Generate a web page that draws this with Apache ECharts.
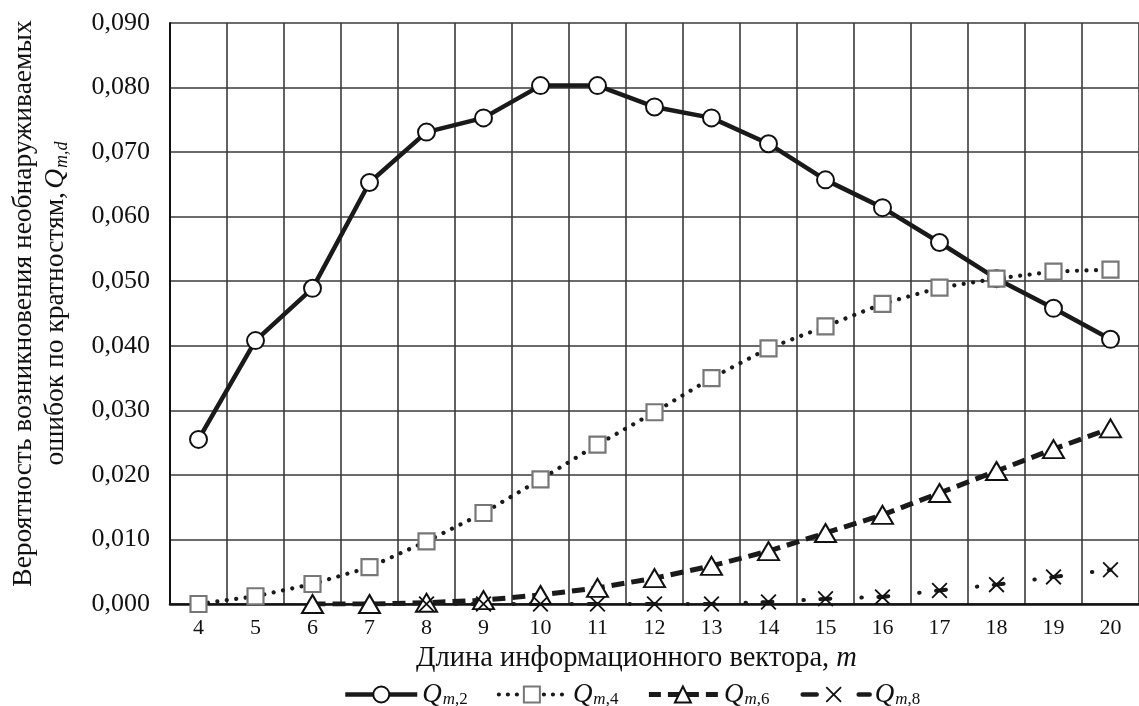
<!DOCTYPE html>
<html>
<head>
<meta charset="utf-8">
<script src="https://cdn.jsdelivr.net/npm/echarts@6/dist/echarts.min.js"></script>
<style>
  html, body { margin: 0; padding: 0; background: #fff; }
  #chart { width: 1139px; height: 706px; }
</style>
</head>
<body>
<div id="chart"></div>
<script>
// Information vector length m
const categories = ['4', '5', '6', '7', '8', '9', '10', '11', '12', '13', '14', '15', '16', '17', '18', '19', '20'];

// Probability of undetected errors by multiplicity d
const qm2 = [0.0255, 0.0408, 0.0489, 0.0653, 0.0731, 0.0753, 0.0803, 0.0803, 0.0770, 0.0753, 0.0713, 0.0657, 0.0614, 0.0560, 0.0504, 0.0458, 0.0410];
const qm4 = [0.0000, 0.0012, 0.0031, 0.0057, 0.0097, 0.0141, 0.0193, 0.0247, 0.0297, 0.0350, 0.0396, 0.0430, 0.0465, 0.0490, 0.0504, 0.0515, 0.0518];
const qm6 = [null, null, 0.0000, 0.0000, 0.0002, 0.0006, 0.0014, 0.0025, 0.0040, 0.0059, 0.0082, 0.0110, 0.0138, 0.0172, 0.0206, 0.0240, 0.0272];
const qm8 = [null, null, null, null, 0.0000, 0.0000, 0.0000, 0.0000, 0.0000, 0.0000, 0.0003, 0.0008, 0.0011, 0.0021, 0.0030, 0.0042, 0.0053];

const seriesNames = ['Q_m,2', 'Q_m,4', 'Q_m,6', 'Q_m,8'];
const yTicks = { min: 0, max: 0.09, interval: 0.01 };

const SERIF = '"Liberation Serif", "DejaVu Serif", serif';
const CROSS = 'path://M1.6,0L10,8.4L18.4,0L20,1.6L11.6,10L20,18.4L18.4,20L10,11.6L1.6,20L0,18.4L8.4,10L0,1.6Z';

// Line styles shared by the series and their legend samples
const styles = [
  { color: '#1a1a1a', width: 4.5, type: 'solid' },
  { color: '#1a1a1a', width: 4.2, type: [0.01, 9.5], cap: 'round' },
  { color: '#1a1a1a', width: 5, type: [13, 7] },
  { color: '#1a1a1a', width: 4, type: [10, 31, 0.5, 16.5], dashOffset: 12, cap: 'round' }
];
const legendStyles = [
  { color: '#1a1a1a', width: 4.5, type: 'solid' },
  { color: '#1a1a1a', width: 4.2, type: [0.01, 9], cap: 'round', dashOffset: -3 },
  { color: '#1a1a1a', width: 5, type: [12, 7], dashOffset: -2 },
  { color: '#1a1a1a', width: 4.5, type: [14, 42], dashOffset: -5 }
];

const subRich = {
  q: { fontFamily: SERIF, fontSize: 27, fontStyle: 'italic', color: '#111' },
  s: { fontFamily: SERIF, fontSize: 17, fontStyle: 'italic', color: '#111', padding: [11, 0, 0, 1] },
  t: { fontFamily: SERIF, fontSize: 17, color: '#111', padding: [11, 0, 0, 0] }
};

const chart = echarts.init(document.getElementById('chart'), null, { renderer: 'canvas' });

chart.setOption({
  backgroundColor: '#fff',
  animation: false,
  grid: { left: 167, top: 23, width: 985, height: 581, containLabel: false },
  legend: {
    top: 676,
    left: 338,
    itemWidth: 72,
    itemHeight: 20,
    itemGap: 26,
    data: seriesNames.map(function (n, i) { return { name: n, lineStyle: legendStyles[i] }; }),
    formatter: function (name) {
      const idx = name.split(',')[1];
      return '{q|Q}{s|m}{t|,' + idx + '}';
    },
    textStyle: { rich: subRich }
  },
  xAxis: {
    type: 'category',
    data: categories,
    boundaryGap: true,
    name: '{a|Длина информационного вектора, }{i|m}',
    nameLocation: 'middle',
    nameGap: 38,
    nameTextStyle: {
      padding: [0, 36, 0, 0],
      rich: {
        a: { fontFamily: SERIF, fontSize: 28.5, color: '#111' },
        i: { fontFamily: SERIF, fontSize: 28.5, fontStyle: 'italic', color: '#111' }
      }
    },
    axisLine: { show: true, lineStyle: { color: '#111', width: 2.5 } },
    axisTick: { show: false },
    axisLabel: { fontFamily: SERIF, fontSize: 22, color: '#111', margin: 13 },
    splitLine: { show: true, interval: 0, lineStyle: { color: '#3a3a3a', width: 1.6 } }
  },
  yAxis: {
    type: 'value',
    min: yTicks.min,
    max: yTicks.max,
    interval: yTicks.interval,
    name: '{a|Вероятность возникновения необнаруживаемых}\n{a|ошибок по кратностям,} {q|Q}{s|m,d}',
    nameLocation: 'middle',
    nameRotate: 90,
    nameGap: 98,
    nameTextStyle: {
      lineHeight: 32,
      padding: [0, 0, 0, 20],
      rich: {
        a: { fontFamily: SERIF, fontSize: 27.5, color: '#111', lineHeight: 32 },
        q: { fontFamily: SERIF, fontSize: 27.5, fontStyle: 'italic', color: '#111', lineHeight: 32 },
        s: { fontFamily: SERIF, fontSize: 18, fontStyle: 'italic', color: '#111', padding: [12, 0, 0, 1] }
      }
    },
    axisLine: { show: true, lineStyle: { color: '#111', width: 2 } },
    axisTick: { show: false },
    axisLabel: {
      fontFamily: SERIF, fontSize: 26, color: '#111', margin: 20,
      formatter: function (v) { return v.toFixed(3).replace('.', ','); }
    },
    splitLine: { show: true, lineStyle: { color: '#3a3a3a', width: 1.6 } }
  },
  series: [
    {
      name: seriesNames[0],
      type: 'line',
      data: qm2,
      symbol: 'circle',
      symbolSize: 17,
      itemStyle: { color: '#fff', borderColor: '#111', borderWidth: 2 },
      lineStyle: styles[0]
    },
    {
      name: seriesNames[1],
      type: 'line',
      data: qm4,
      symbol: 'rect',
      symbolSize: 16,
      itemStyle: { color: '#fff', borderColor: '#777', borderWidth: 2.2 },
      lineStyle: styles[1]
    },
    {
      name: seriesNames[2],
      type: 'line',
      data: qm6,
      symbol: 'triangle',
      symbolSize: [21, 18],
      itemStyle: { color: '#fff', borderColor: '#111', borderWidth: 2 },
      lineStyle: styles[2]
    },
    {
      name: seriesNames[3],
      type: 'line',
      data: qm8,
      symbol: CROSS,
      symbolSize: 16,
      itemStyle: { color: '#111', borderWidth: 0 },
      lineStyle: styles[3]
    }
  ]
});
</script>
</body>
</html>
